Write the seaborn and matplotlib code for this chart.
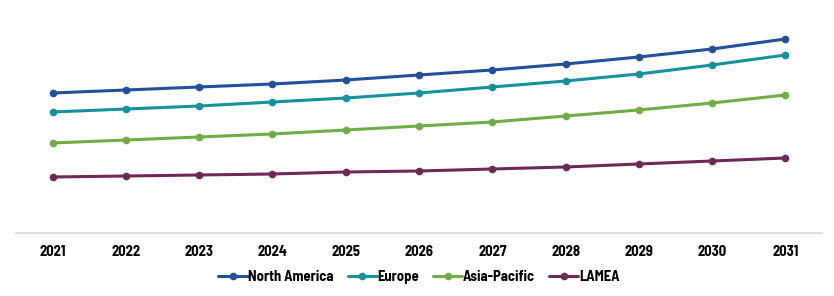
import matplotlib
matplotlib.use("Agg")
import matplotlib.pyplot as plt
import seaborn as sns
import pandas as pd

years = ["2021", "2022", "2023", "2024", "2025", "2026", "2027", "2028", "2029", "2030", "2031"]
north_america = [140, 143, 146, 149, 153, 158, 163, 169, 176, 184, 194]
europe = [121, 124, 127, 131, 135, 140, 146, 152, 159, 168, 178]
asia_pacific = [90, 93, 96, 99, 103, 107, 111, 117, 123, 130, 138]
lamea = [56, 57, 58, 59, 61, 62, 64, 66, 69, 72, 75]
regions = ["North America", "Europe", "Asia-Pacific", "LAMEA"]
colors = ["#22509a", "#16929c", "#70ad47", "#6e2a56"]

rows = []
for name, vals in zip(regions, [north_america, europe, asia_pacific, lamea]):
    for y, v in zip(years, vals):
        rows.append({"Year": y, "Value": v, "Region": name})
df = pd.DataFrame(rows)

sns.set_theme(style="white")
plt.rcParams['font.family'] = ['Barlow Semi Condensed', 'DejaVu Sans']

fig = plt.figure(figsize=(8.34, 2.96), dpi=100)
ax = fig.add_axes([16/834, 63/296, 806/834, 233/296])
sns.lineplot(data=df, x="Year", y="Value", hue="Region", hue_order=regions,
             palette=colors, marker="o", markersize=5.5, markeredgewidth=0,
             linewidth=2.2, ax=ax, sort=False)
ax.set_xlim(-0.5, 10.5)
ax.set_ylim(0, 233)
for s in ["top", "right", "left"]:
    ax.spines[s].set_visible(False)
ax.spines["bottom"].set_color("#d9d9d9")
ax.spines["bottom"].set_linewidth(1.2)
ax.set_yticks([])
ax.set_xlabel("")
ax.set_ylabel("")
ax.tick_params(axis="x", length=0, pad=9)
for t in ax.get_xticklabels():
    t.set_fontweight("bold")
    t.set_fontsize(10.5)
    t.set_color("black")
leg = ax.legend(loc="center", bbox_to_anchor=(403/806, -44/233), ncol=4, frameon=False,
                handlelength=2.0, handletextpad=0.05, columnspacing=0.95,
                prop={"weight": "bold", "size": 10.5})
for t in leg.get_texts():
    t.set_color("black")
fig.savefig("out.png", dpi=100)
